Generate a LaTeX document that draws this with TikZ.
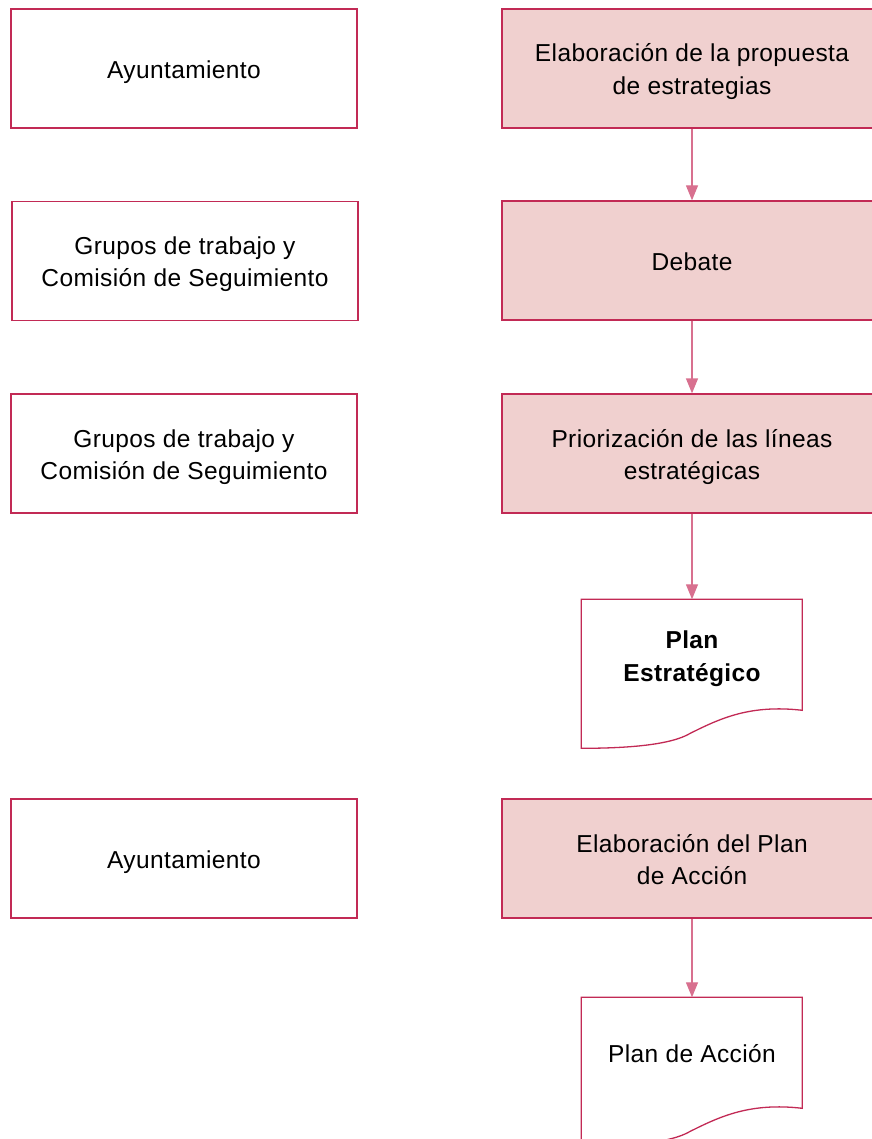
\documentclass[tikz,border=0pt]{standalone}
\usepackage{fontspec}
\setmainfont[LetterSpace=1.6]{Liberation Sans}
\usetikzlibrary{arrows.meta}
\definecolor{bord}{HTML}{C22A55}
\definecolor{fillc}{HTML}{F0D0CF}
\definecolor{arrc}{HTML}{D8708F}
\tikzset{
  lbox/.style={draw=bord, line width=1.3pt, minimum width=346pt, minimum height=119pt, align=center, inner sep=0pt, font=\fontsize{24.5}{32.5}\selectfont},
  rbox/.style={lbox, fill=fillc, minimum width=380pt},
  oneline/.style={text height=19.6pt, text depth=0pt},
  twoline/.style={text height=52pt, text depth=0pt},
  docbox/.style={minimum width=221pt, minimum height=111pt, align=center, inner sep=0pt, font=\fontsize{24.5}{32.5}\selectfont},
  docline/.style={draw=bord, line width=1.3pt},
  flow/.style={draw=arrc, line width=1.3pt, -{Triangle[length=15pt,width=12pt]}},
}
\begin{document}
\begin{tikzpicture}[x=1pt,y=-1pt]
\useasboundingbox (0,0) rectangle (871,1139);
\node[lbox, oneline] (l1) at (184,68.5) {Ayuntamiento};
\node[rbox, twoline] (r1) at (692,68.5) {Elaboración de la propuesta\\de estrategias};
\node[lbox, twoline] (l2) at (185,261) {Grupos de trabajo y\\Comisión de Seguimiento};
\node[rbox, oneline] (r2) at (692,260.5) {Debate};
\node[lbox, twoline] (l3) at (184,453.5) {Grupos de trabajo y\\Comisión de Seguimiento};
\node[rbox, twoline] (r3) at (692,453.5) {Priorización de las líneas\\estratégicas};
\node[docbox, twoline, font=\fontsize{24.5}{32.5}\selectfont\bfseries] (d1) at (692,655) {Plan\\Estratégico};
\draw[docline, shift={(d1.north west)}] (0,149) -- (0,0) -- (221,0) -- (221,111)
  .. controls (169,105) and (139,119) .. (109,134)
  .. controls (89,146) and (44,149) .. (0,149) -- cycle;
\node[lbox, oneline] (l4) at (184,858.5) {Ayuntamiento};
\node[rbox, twoline] (r4) at (692,858.5) {Elaboración del Plan\\de Acción};
\node[docbox, oneline] (d2) at (692,1053) {Plan de Acción};
\draw[docline, shift={(d2.north west)}] (0,149) -- (0,0) -- (221,0) -- (221,111)
  .. controls (169,105) and (139,119) .. (109,134)
  .. controls (89,146) and (44,149) .. (0,149) -- cycle;
\draw[flow] (r1.south) -- (r2.north);
\draw[flow] (r2.south) -- (r3.north);
\draw[flow] (r3.south) -- (d1.north);
\draw[flow] (r4.south) -- (d2.north);
\end{tikzpicture}
\end{document}
